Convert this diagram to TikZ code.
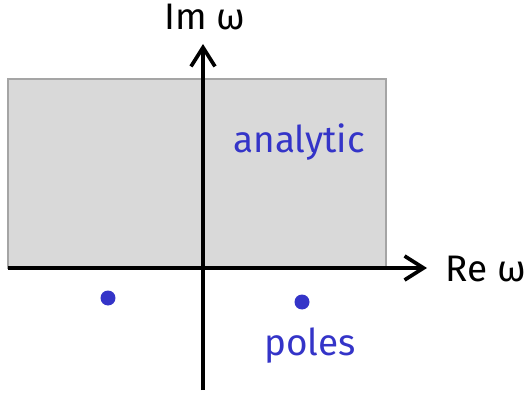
\documentclass[tikz,border=0pt]{standalone}
\usepackage{fontspec}
\setmainfont{Fira Sans}
\usepackage{tikz}
\usetikzlibrary{arrows.meta}
\definecolor{poleblue}{RGB}{52,52,200}
\definecolor{regiongray}{RGB}{217,217,217}
\definecolor{edgegray}{RGB}{165,165,165}

\begin{document}
\begin{tikzpicture}[x=0.02cm, y=-0.02cm,
    axis/.style={line width=2.1pt, -{Straight Barb[length=3.8mm, width=4.8mm, line width=2.1pt]}},
    lbl/.style={font=\fontsize{21}{24}\selectfont, inner sep=0pt},
    blbl/.style={lbl, text=poleblue},
    pole/.style={circle, fill=poleblue, inner sep=0pt, minimum size=0.3cm}
]
\useasboundingbox (0,0) rectangle (524,395);
% analytic region
\draw[edgegray, fill=regiongray, line width=0.9pt] (8,79) rectangle (386,268);
\node[blbl] (ana) at (299,142) {analytic};

% axes
\coordinate (xl) at (8,268);
\coordinate (xr) at (427,268);
\coordinate (yb) at (203,390);
\coordinate (yt) at (203,44);
\draw[axis] (xl) -- (xr);
\draw[axis] (yb) -- (yt);
\node[lbl] (re) at (486,269) {Re ω};
\node[lbl] (im) at (205,17) {Im ω};

% poles
\node[pole] (p1) at (108,298) {};
\node[pole] (p2) at (302,302) {};
\node[blbl] (pl) at (310,346) {poles};
\end{tikzpicture}
\end{document}
